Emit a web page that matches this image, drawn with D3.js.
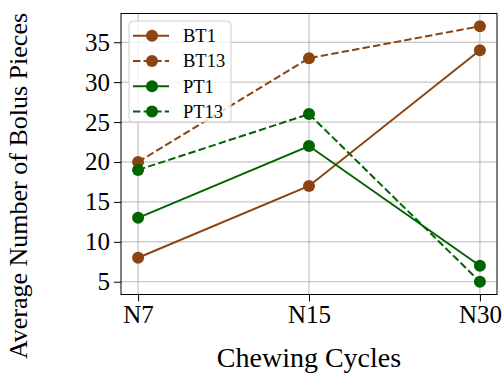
<!DOCTYPE html>
<html>
<head>
<meta charset="utf-8">
<script src="https://cdn.jsdelivr.net/npm/d3@7"></script>
<style>
  html, body { margin: 0; padding: 0; background: #fff; }
  svg { display: block; font-family: "Liberation Serif", "Times New Roman", serif; }
  svg text { font-family: "Liberation Serif", "Times New Roman", serif; }
</style>
</head>
<body>
<svg id="chart" width="502" height="373"></svg>
<script>
// Chewing cycle conditions on the x axis
const categories = ["N7", "N15", "N30"];

// Average number of bolus pieces per condition
const seriesNames = ["BT1", "BT13", "PT1", "PT13"];
const bt1  = [8, 17, 34];
const bt13 = [20, 33, 37];
const pt1  = [13, 22, 7];
const pt13 = [19, 26, 5];

const yTicks = [5, 10, 15, 20, 25, 30, 35];

const brown = "#8b4513";
const green = "#006400";

const series = [
  { name: seriesNames[0], values: bt1,  color: brown, dashed: false },
  { name: seriesNames[1], values: bt13, color: brown, dashed: true },
  { name: seriesNames[2], values: pt1,  color: green, dashed: false },
  { name: seriesNames[3], values: pt13, color: green, dashed: true }
];

const svg = d3.select("#chart");
const plot = { left: 121, top: 13.5, right: 497, bottom: 294.5 };

// Axis domains padded by 5% of the data span on each side
const x = d3.scaleLinear().domain([-0.1, 2.1]).range([plot.left, plot.right]);
const allVals = series.flatMap(s => s.values);
const yMin = d3.min(allVals), yMax = d3.max(allVals);
const pad = (yMax - yMin) * 0.05;
const y = d3.scaleLinear().domain([yMin - pad, yMax + pad]).range([plot.bottom, plot.top]);

// Grid
const grid = svg.append("g").attr("stroke", "#b0b0b0").attr("stroke-width", 0.9);
categories.forEach((c, i) => {
  grid.append("line").attr("x1", x(i)).attr("x2", x(i))
    .attr("y1", plot.top).attr("y2", plot.bottom);
});
yTicks.forEach(t => {
  grid.append("line").attr("x1", plot.left).attr("x2", plot.right)
    .attr("y1", y(t)).attr("y2", y(t));
});

// Axes
const xAxis = d3.axisBottom(x)
  .tickValues(d3.range(categories.length))
  .tickFormat(i => categories[i])
  .tickSize(7).tickPadding(4);
const yAxis = d3.axisLeft(y).tickValues(yTicks).tickSize(7).tickPadding(4);

const gx = svg.append("g").attr("transform", `translate(0,${plot.bottom})`).call(xAxis);
const gy = svg.append("g").attr("transform", `translate(${plot.left},0)`).call(yAxis);
[gx, gy].forEach(g => {
  g.attr("font-family", null).attr("font-size", null);
  g.select(".domain").remove();
  g.selectAll(".tick line").attr("stroke", "#000").attr("stroke-width", 1);
  g.selectAll(".tick text").attr("fill", "#000").style("font-size", "25px");
});

// Lines and markers
const line = d3.line().x((d, i) => x(i)).y(d => y(d));
series.forEach(s => {
  svg.append("path")
    .datum(s.values)
    .attr("d", line)
    .attr("fill", "none")
    .attr("stroke", s.color)
    .attr("stroke-width", 2)
    .attr("stroke-dasharray", s.dashed ? "7.4,3.2" : null);
  svg.append("g").selectAll("circle")
    .data(s.values)
    .join("circle")
    .attr("cx", (d, i) => x(i))
    .attr("cy", d => y(d))
    .attr("r", 6)
    .attr("fill", s.color);
});

// Frame
svg.append("rect")
  .attr("x", plot.left).attr("y", plot.top)
  .attr("width", plot.right - plot.left).attr("height", plot.bottom - plot.top)
  .attr("fill", "none").attr("stroke", "#000").attr("stroke-width", 1);

// Legend
const leg = svg.append("g").attr("transform", "translate(129,21)");
leg.append("rect")
  .attr("width", 102).attr("height", 101).attr("rx", 4)
  .attr("fill", "#fff").attr("fill-opacity", 0.8)
  .attr("stroke", "#d0d0d0").attr("stroke-width", 1);
series.forEach((s, i) => {
  const ry = 14.7 + i * 25.3;
  leg.append("line")
    .attr("x1", 4).attr("x2", 40).attr("y1", ry).attr("y2", ry)
    .attr("stroke", s.color).attr("stroke-width", 2)
    .attr("stroke-dasharray", s.dashed ? "7.4,3.2" : null);
  leg.append("circle").attr("cx", 23).attr("cy", ry).attr("r", 6).attr("fill", s.color);
  leg.append("text")
    .attr("x", 54).attr("y", ry).attr("dy", "0.35em")
    .style("font-size", "18.5px").attr("fill", "#000")
    .text(s.name);
});

// Axis titles
svg.append("text")
  .attr("x", (plot.left + plot.right) / 2).attr("y", 367)
  .attr("text-anchor", "middle").style("font-size", "28px")
  .text("Chewing Cycles");
svg.append("text")
  .attr("transform", `translate(27,${(plot.top + plot.bottom) / 2 + 32}) rotate(-90)`)
  .attr("text-anchor", "middle").style("font-size", "26px")
  .text("Average Number of Bolus Pieces");
</script>
</body>
</html>
